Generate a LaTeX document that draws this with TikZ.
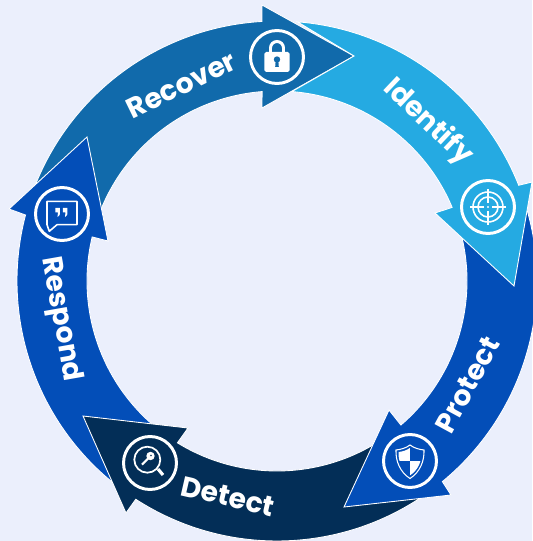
\documentclass[tikz,border=0pt]{standalone}
\usepackage{fontspec}
\setmainfont{Poppins}
\definecolor{pagecol}{RGB}{235,239,252}
\definecolor{recovercol}{RGB}{17,106,171}
\definecolor{identifycol}{RGB}{37,170,226}
\definecolor{protectcol}{RGB}{3,78,184}
\definecolor{detectcol}{RGB}{3,46,87}
\tikzset{
  ringarrow/.style={draw=white, line width=0.5pt, line join=miter},
  iconring/.style={circle, draw=white, line width=1.7pt, minimum size=1.06cm, inner sep=0pt},
  ringlabel/.style={text=white, font=\bfseries\fontsize{16}{18}\selectfont, inner sep=0pt}
}
\begin{document}
\begin{tikzpicture}[x=0.02cm, y=0.02cm]
\fill[pagecol] (-277,-260) rectangle (255,281);
\useasboundingbox (-277,-260) rectangle (255,281);
% recover
\filldraw[ringarrow, fill=recovercol] (162:260) arc[start angle=162, end angle=93.3, radius=260] -- (-15,276) -- (77,225) -- (-15,173) -- (94.5:190) arc[start angle=94.5, end angle=162, radius=190] -- cycle;
% respond
\filldraw[ringarrow, fill=protectcol] (235:260) arc[start angle=235, end angle=165.3, radius=260] -- (-268,72) -- (-190,144) -- (-169,40) -- (166.6:190) arc[start angle=166.6, end angle=235, radius=190] -- cycle;
% detect
\filldraw[ringarrow, fill=detectcol] (-52:260) arc[start angle=-52, end angle=-122.9, radius=260] -- (-151,-232) -- (-194,-135) -- (-89,-147) -- (-121.6:190) arc[start angle=-121.6, end angle=-52, radius=190] -- cycle;
% protect
\filldraw[ringarrow, fill=protectcol] (20:260) arc[start angle=20, end angle=-50.5, radius=260] -- (174,-214) -- (67,-226) -- (112,-129) -- (-49.3:190) arc[start angle=-49.3, end angle=20, radius=190] -- cycle;
% identify, notched round the recover tip
\filldraw[ringarrow, fill=identifycol] (77,225) -- (85.5:260) arc[start angle=85.5, end angle=21.6, radius=260] -- (255,99) -- (237,-5) -- (158,68) -- (22.8:190) arc[start angle=22.8, end angle=85.5, radius=190] -- cycle;

\node[ringlabel, rotate=26] (recoverlabel) at (116:218) {Recover};
\node[ringlabel, rotate=-43.5] (identifylabel) at (46.5:219) {Identify};
\node[ringlabel, rotate=61.5] (protectlabel) at (-28.5:217) {Protect};
\node[ringlabel, rotate=-13] (detectlabel) at (-102.8:221) {Detect};
\node[ringlabel, rotate=-80] (respondlabel) at (190:220) {Respond};

\node[iconring] (lockicon) at (0,224) {};
\node[iconring] (targeticon) at (211,74) {};
\node[iconring] (shieldicon) at (133,-180) {};
\node[iconring] (keyicon) at (-127,-182) {};
\node[iconring] (speechicon) at (-215,67) {};

% lock
\begin{scope}[shift={(lockicon.center)}]
\draw[white, line width=1.7pt] (-6.5,4) -- (-6.5,9) arc[start angle=180, end angle=0, radius=6.5] -- (6.5,4);
\fill[white, rounded corners=1pt] (-12.7,5) rectangle (12.7,-15);
\fill[recovercol] (0,-2.5) circle (3.2);
\fill[recovercol] (-1.3,-3) -- (1.3,-3) -- (1.8,-10) -- (-1.8,-10) -- cycle;
\end{scope}
% target
\begin{scope}[shift={(targeticon.center)}]
\draw[white, line width=0.9pt] (0,0) circle (15);
\draw[white, line width=0.9pt] (0,0) circle (10);
\draw[white, line width=0.9pt] (4,0) -- (18,0) (-4,0) -- (-18,0) (0,4) -- (0,18) (0,-4) -- (0,-18);
\fill[white] (0,0) circle (1.2);
\end{scope}
% shield
\begin{scope}[shift={(shieldicon.center)}]
\draw[white, line width=0.6pt] (0,16) .. controls (4,13) and (9,11.5) .. (14,11) .. controls (14.5,0) and (10,-11) .. (0,-17.5) .. controls (-10,-11) and (-14.5,0) .. (-14,11) .. controls (-9,11.5) and (-4,13) .. cycle;
\begin{scope}[scale=0.82]
\clip (0,16) .. controls (4,13) and (9,11.5) .. (14,11) .. controls (14.5,0) and (10,-11) .. (0,-17.5) .. controls (-10,-11) and (-14.5,0) .. (-14,11) .. controls (-9,11.5) and (-4,13) .. cycle;
\fill[white] (-20,0) rectangle (0,20);
\fill[white] (0,-20) rectangle (20,0);
\end{scope}
\end{scope}
% magnifier with key
\begin{scope}[shift={(keyicon.center)}]
\draw[white, line width=1pt] (-2.7,3.3) circle (13);
\draw[white, line width=1.8pt] (8,-6) -- (13,-12);
\draw[white, line width=1.2pt] (-0.5,6) -- (-8,-1.7);
\fill[white, even odd rule] (0.5,7) circle (4.2) (1,7.5) circle (1.2);
\end{scope}
% speech bubble
\begin{scope}[shift={(speechicon.center)}]
\draw[white, line width=0.9pt, line join=round] (-5,-10.7) -- (-12.7,-17.3) -- (-15,-10.7) -- (-15,12.7) -- (15,12.7) -- (15,-10.7) -- cycle;
\fill[white] (-6.5,6) -- (-2,6) -- (-2,1.5) .. controls (-2,-1) .. (-4.5,-3) -- (-4,1.5) -- (-6.5,1.5) -- cycle;
\fill[white] (1,6) -- (5.5,6) -- (5.5,1.5) .. controls (5.5,-1) .. (3,-3) -- (3.5,1.5) -- (1,1.5) -- cycle;
\end{scope}
\end{tikzpicture}
\end{document}
